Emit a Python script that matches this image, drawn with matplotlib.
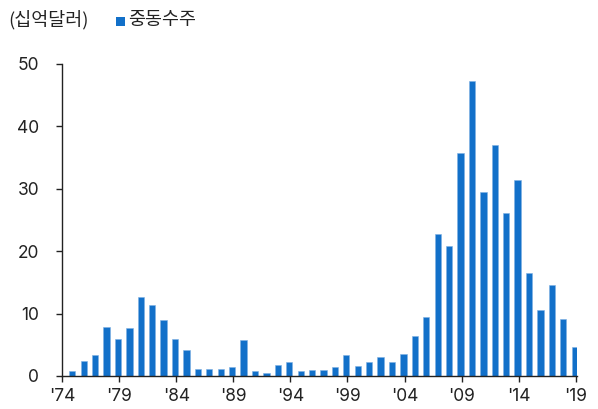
import matplotlib
matplotlib.use("Agg")
import matplotlib.pyplot as plt
from matplotlib.patches import Rectangle

plt.rcParams['font.family'] = ['Noto Sans CJK KR', 'DejaVu Sans']

years = list(range(1975, 2020))
values = [0.75, 2.4, 3.3, 7.9, 5.9, 7.75, 12.7, 11.4, 9.0, 5.9,
          4.2, 1.2, 1.2, 1.2, 1.4, 5.8, 0.75, 0.55, 1.7, 2.25,
          0.75, 0.9, 0.9, 1.45, 3.3, 1.55, 2.25, 3.05, 2.25, 3.5,
          6.4, 9.5, 22.75, 20.8, 35.7, 47.3, 29.5, 37.0, 26.1, 31.35,
          16.5, 10.5, 14.6, 9.2, 4.7]
tick_years = [1974, 1979, 1984, 1989, 1994, 1999, 2004, 2009, 2014, 2019]
tick_labels = ["'74", "'79", "'84", "'89", "'94", "'99", "'04", "'09", "'14", "'19"]
yticks = [0, 10, 20, 30, 40, 50]

color = '#1270C9'
tick_font = ['Inter', 'DejaVu Sans']

fig = plt.figure(figsize=(5.98, 4.09), dpi=100)
ax = fig.add_axes([62/598, 33/409, (577-62)/598, (376-64)/409])
ax.bar([y - 0.1 for y in years], values, width=0.55, color=color, edgecolor='#7fb0e3', linewidth=0.4)
ax.set_xlim(1974, 2019.1)
ax.set_ylim(0, 50)
ax.set_xticks(tick_years)
ax.set_xticklabels(tick_labels, family=tick_font)
ax.set_yticks(yticks)
ax.set_yticklabels([str(v) for v in yticks], family=tick_font)
for s in ['top', 'right']:
    ax.spines[s].set_visible(False)
for s in ['left', 'bottom']:
    ax.spines[s].set_color('#222222')
    ax.spines[s].set_linewidth(1.0)
ax.tick_params(axis='both', direction='out', length=4.5, width=1, colors='#222222',
               labelsize=12.5, labelcolor='#222222')
ax.tick_params(axis='y', pad=12)
ax.tick_params(axis='x', pad=4)

fig.text(8/598, 1 - 20/409, '(십억달러)', fontsize=13.3, color='#222222', va='center', ha='left')
fig.patches.append(Rectangle((116/598, 1 - 26/409), 9/598, 9/409, transform=fig.transFigure,
                             facecolor=color, edgecolor='none'))
fig.text(128/598, 1 - 20/409, '중동수주', fontsize=13.3, color='#222222', va='center', ha='left')

fig.savefig('out.png', dpi=100)
